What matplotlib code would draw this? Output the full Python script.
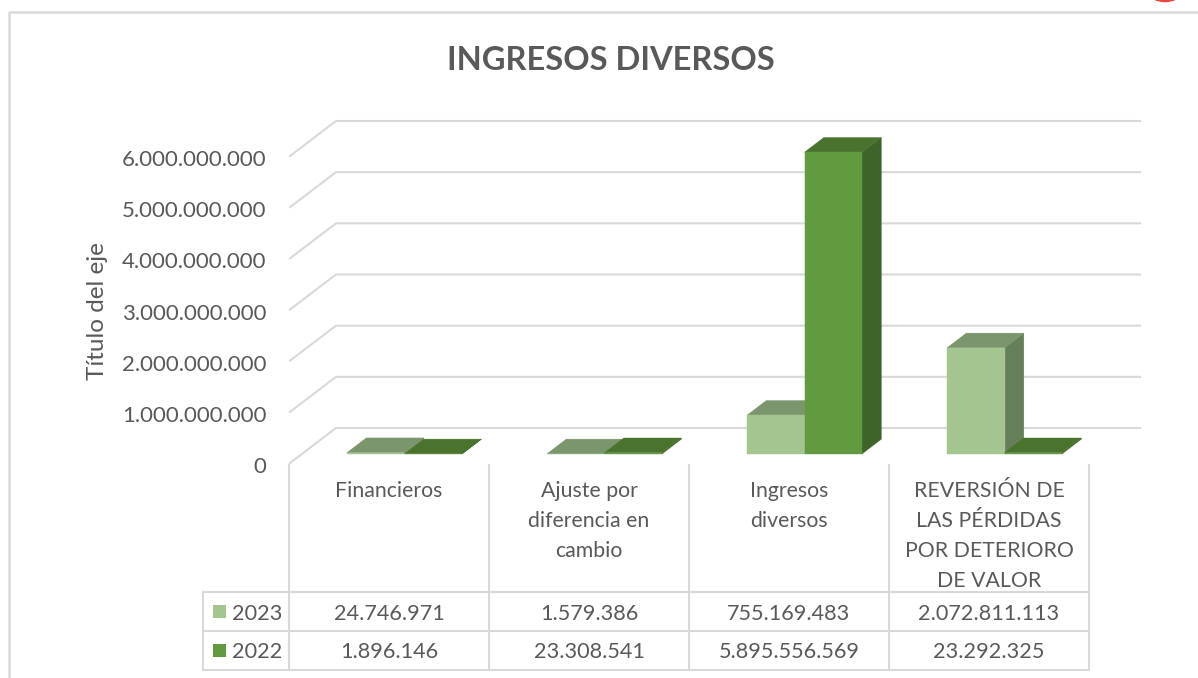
import matplotlib
matplotlib.use("Agg")
import matplotlib.pyplot as plt
from matplotlib.patches import Polygon, Rectangle, Ellipse
from matplotlib.transforms import ScaledTranslation

plt.rcParams['font.family'] = ['Lato', 'DejaVu Sans']

title = "INGRESOS DIVERSOS"
y_title = "Título del eje"
categories = ["Financieros", "Ajuste por\ndiferencia en\ncambio", "Ingresos\ndiversos",
              "REVERSIÓN DE\nLAS PÉRDIDAS\nPOR DETERIORO\nDE VALOR"]
series_names = ["2023", "2022"]
values_2023 = [24746971, 1579386, 755169483, 2072811113]
values_2022 = [1896146, 23308541, 5895556569, 23292325]
y_ticks = [0, 1000000000, 2000000000, 3000000000, 4000000000, 5000000000, 6000000000]

W, H = 1198, 678
GRID = '#D9D9D9'
TEXT = '#595959'
light = {'front': '#A4C58F', 'top': '#7B966D', 'side': '#667E5A'}
dark = {'front': '#63993F', 'top': '#4A732E', 'side': '#3F6429'}


def dots(v):
    return f"{v:,}".replace(",", ".")


fig = plt.figure(figsize=(W / 100, H / 100), dpi=100)

# overlay in pixels for the frame, title and data table
bg = fig.add_axes([0, 0, 1, 1], zorder=0)
bg.set_xlim(0, W)
bg.set_ylim(H, 0)
bg.axis('off')

# front plane of the 3D chart
ax = fig.add_axes([290 / W, 1 - 463 / H, 800 / W, 307 / H], zorder=1)
ax.set_xlim(0, 4)
ax.set_ylim(0, 6e9)
ax.patch.set_alpha(0)
for s in ax.spines.values():
    s.set_visible(False)

# depth of the box, in data units
DX = 46 / 200
DY = 35 * 6e9 / 307
BAR_W = 0.2875
D0, D1 = 0.26, 0.68


def bar3d(x, v, col):
    fx0, fx1 = x + D0 * DX, x + BAR_W + D0 * DX
    fy0, fy1 = D0 * DY, v + D0 * DY
    bx0, bx1 = x + D1 * DX, x + BAR_W + D1 * DX
    by0, by1 = D1 * DY, v + D1 * DY
    kw = dict(clip_on=False, linewidth=0.3)
    ax.add_patch(Polygon([(fx1, fy0), (bx1, by0), (bx1, by1), (fx1, fy1)], facecolor=col['side'], edgecolor=col['side'], **kw))
    ax.add_patch(Polygon([(fx0, fy1), (bx0, by1), (bx1, by1), (fx1, fy1)], facecolor=col['top'], edgecolor=col['top'], **kw))
    ax.add_patch(Polygon([(fx0, fy0), (fx1, fy0), (fx1, fy1), (fx0, fy1)], facecolor=col['front'], edgecolor=col['front'], **kw))


for t in y_ticks:
    ax.plot([0, DX, 4 + 50 / 200], [t, t + DY, t + DY], color=GRID, lw=1.5, clip_on=False, zorder=0.5)

for i in range(len(categories)):
    left = i + 0.5 + 14.5 / 200 - BAR_W - D0 * DX
    bar3d(left, values_2023[i], light)
    bar3d(left + BAR_W, values_2022[i], dark)

ax.set_xticks([])
ax.set_yticks(y_ticks)
ax.set_yticklabels([dots(t) for t in y_ticks])
ax.tick_params(axis='y', length=0, pad=17, labelsize=16, labelcolor=TEXT)
nudge = ScaledTranslation(0, -2 / 100, fig.dpi_scale_trans)
for lab in ax.get_yticklabels():
    lab.set_transform(lab.get_transform() + nudge)

# frame and the bit of red at the top edge
bg.plot([9, 9, W], [H, 12, 12], color=GRID, lw=1.8)
bg.add_patch(Ellipse((1165, -8), 30, 17, facecolor='none', edgecolor='#E8473F', lw=2.5))

bg.text(611, 60, title, ha='center', va='center', fontsize=23.5, fontweight='bold', color=TEXT)
bg.text(97, 311, y_title, ha='center', va='center', rotation=90, fontsize=17.5, color=TEXT)

# data table
col_x = [289, 489, 689, 889, 1089]
row_y = [592, 631, 670]
for x in col_x:
    bg.plot([x, x], [465, row_y[-1]], color=GRID, lw=1.5)
bg.plot([203, 203], [row_y[0], row_y[-1]], color=GRID, lw=1.5)
for y in row_y:
    bg.plot([203, col_x[-1]], [y, y], color=GRID, lw=1.5)

for i, label in enumerate(categories):
    for j, line in enumerate(label.split("\n")):
        bg.text(col_x[i] + 100, 491 + j * 30, line, ha='center', va='center', fontsize=15.3, color=TEXT)

rows = [values_2023, values_2022]
keys = [light['front'], dark['front']]
for r, vals in enumerate(rows):
    yc = (row_y[r] + row_y[r + 1]) / 2
    bg.add_patch(Rectangle((213, yc - 6.5), 13, 13, facecolor=keys[r], edgecolor='none'))
    bg.text(257.5, yc + 2, series_names[r], ha='center', va='center', fontsize=15.6, color=TEXT)
    for i, v in enumerate(vals):
        bg.text(col_x[i] + 100, yc + 2, dots(v), ha='center', va='center', fontsize=15.6, color=TEXT)

fig.savefig("out.png", dpi=100)
